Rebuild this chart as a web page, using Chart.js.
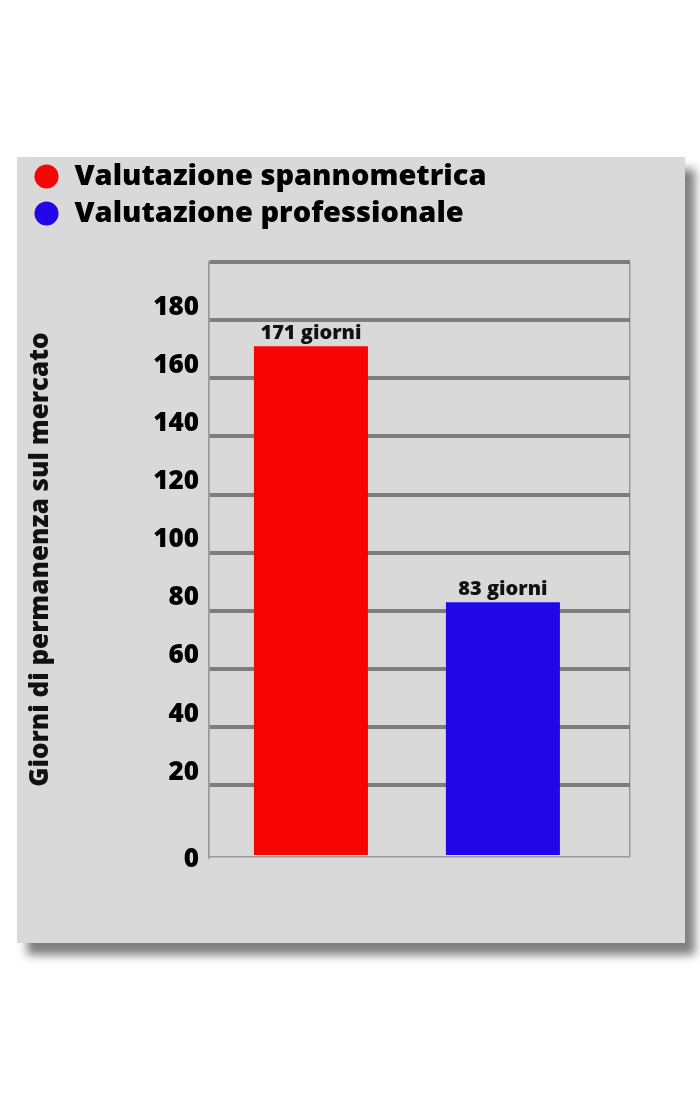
<!DOCTYPE html>
<html>
<head>
<meta charset="utf-8">
<script src="https://cdn.jsdelivr.net/npm/chart.js@4.4.1/dist/chart.umd.min.js"></script>
<style>
  html, body { margin: 0; padding: 0; background: #fff; }
  #panel {
    position: absolute; left: 17px; top: 157px;
    width: 668px; height: 786px;
    background: #d9d9d9;
    box-shadow: 10px 12px 9px rgba(0, 0, 0, 0.5);
  }
  #wrap { position: absolute; left: 0; top: -3px; width: 668px; height: 789px; }
</style>
</head>
<body>
<div id="panel">
  <div id="wrap"><canvas id="barChart"></canvas></div>
</div>
<script>
// data
const seriesLabels = ['Valutazione spannometrica', 'Valutazione professionale'];
const seriesValues = [171, 83];
const seriesColors = ['#f70505', '#2306e8'];
const yTickValues = [0, 20, 40, 60, 80, 100, 120, 140, 160, 180];
const yTop = 200;
const unitLabel = 'giorni';
// the source draws "0" a bit lower than the regular step, so the axis starts slightly below 0
const yBottom = -4.66;
// bars sit at index 0 and 1, the axis range leaves more room on the right
const xMin = -0.531;
const xMax = 1.662;

Chart.defaults.font.family = '"Open Sans", sans-serif';
Chart.defaults.color = '#000';

// extra space under the legend
const legendSpacer = {
  id: 'legendSpacer',
  beforeInit(chart) {
    const fitValue = chart.legend.fit;
    chart.legend.fit = function fit() {
      fitValue.bind(chart.legend)();
      this.height += 24;
    };
  }
};

// "171 giorni" above each bar
const barLabels = {
  id: 'barLabels',
  afterDatasetsDraw(chart) {
    const ctx = chart.ctx;
    ctx.save();
    ctx.font = '800 20px "Open Sans"';
    ctx.fillStyle = '#111';
    ctx.textAlign = 'center';
    ctx.textBaseline = 'middle';
    chart.data.datasets.forEach((ds, i) => {
      chart.getDatasetMeta(i).data.forEach((bar, j) => {
        ctx.fillText(ds.data[j].y + ' ' + unitLabel, bar.x, bar.y - 13);
      });
    });
    ctx.restore();
  }
};

const chart_ctx = document.getElementById('barChart');
var barChart = new Chart(chart_ctx, {
  type: 'bar',
  data: {
    datasets: seriesLabels.map((name, i) => ({
      label: name,
      data: [{ x: i, y: seriesValues[i] }],
      backgroundColor: seriesColors[i],
      borderWidth: 0,
      base: yBottom,
      grouped: false,
      categoryPercentage: 1,
      barPercentage: 0.594
    }))
  },
  options: {
    responsive: true,
    maintainAspectRatio: false,
    animation: false,
    layout: {
      padding: { left: 8, right: 55, top: 0, bottom: 86 }
    },
    plugins: {
      tooltip: { enabled: false },
      legend: {
        position: 'top',
        align: 'start',
        labels: {
          usePointStyle: true,
          pointStyle: 'circle',
          boxWidth: 27,
          boxHeight: 17,
          padding: 8,
          color: '#000',
          font: { size: 29, weight: 800 }
        }
      }
    },
    scales: {
      x: {
        type: 'linear',
        min: xMin,
        max: xMax,
        offset: false,
        afterBuildTicks: (scale) => {
          scale.ticks = [{ value: xMin }, { value: xMax }];
        },
        grid: {
          display: true,
          offset: false,
          drawTicks: false,
          color: '#9a9a9a',
          lineWidth: 1.5
        },
        border: { display: true, color: '#9a9a9a', width: 1.5 },
        ticks: { display: false }
      },
      y: {
        min: yBottom,
        max: yTop,
        afterBuildTicks: (scale) => {
          scale.ticks = [{ value: yBottom }]
            .concat(yTickValues.slice(1).map(v => ({ value: v })))
            .concat([{ value: yTop }]);
        },
        afterFit: (scale) => { scale.width = 184; },
        grid: {
          drawTicks: false,
          color: (c) => (c.tick && c.tick.value < 0) ? 'rgba(0,0,0,0)' : '#7d7d7d',
          lineWidth: 4
        },
        border: { display: true, color: '#9a9a9a', width: 1.5 },
        ticks: {
          autoSkip: false,
          padding: 10,
          labelOffset: -13,
          color: '#000',
          font: { size: 26, weight: 800 },
          callback: (value) => {
            // the zero label hangs lower, on the bottom edge
            if (value === yBottom) return ['', String(yTickValues[0])];
            if (value === yTop) return '';
            return value;
          }
        },
        title: {
          display: true,
          text: 'Giorni di permanenza sul mercato',
          color: '#111',
          padding: { top: 0, bottom: 0 },
          font: { size: 26, weight: 800 }
        }
      }
    }
  },
  plugins: [legendSpacer, barLabels]
});
</script>
</body>
</html>
